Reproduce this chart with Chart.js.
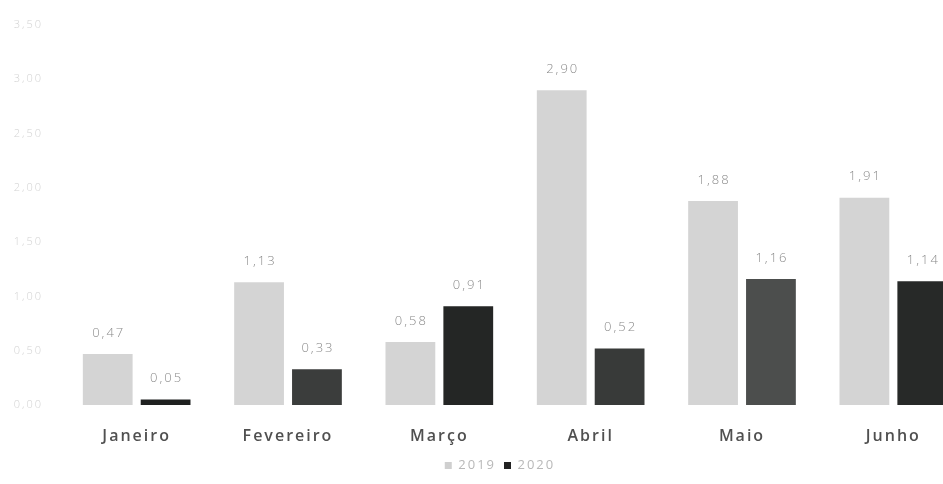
<!DOCTYPE html>
<html>
<head>
<meta charset="utf-8">
<script src="https://cdn.jsdelivr.net/npm/chart.js@4/dist/chart.umd.min.js"></script>
<style>
  html, body { margin: 0; padding: 0; background: #fff; overflow: hidden; }
  #wrap { width: 1000px; height: 484px; }
</style>
</head>
<body>
<div id="wrap"><canvas id="chart" width="1000" height="484"></canvas></div>
<script>
const months = ["Janeiro", "Fevereiro", "Março", "Abril", "Maio", "Junho"]
const values2019 = [0.47, 1.13, 0.58, 2.90, 1.88, 1.91]
const values2020 = [0.05, 0.33, 0.91, 0.52, 1.16, 1.14]
const yTicks = [0, 0.5, 1, 1.5, 2, 2.5, 3, 3.5]

// 2020 bars are not all the same shade
const colors2020 = ["#1f2120", "#3b3d3c", "#242625", "#383a39", "#4c4e4d", "#272928"]

const fmt = v => v.toFixed(2).replace(".", ",")

// wide tracking on every text
const spacing = {
    id: "spacing",
    beforeUpdate(chart) { chart.ctx.letterSpacing = "2px" },
    beforeDraw(chart) { chart.ctx.letterSpacing = "2px" }
}

// values above each bar
const valueLabels = {
    id: "valueLabels",
    afterDatasetsDraw(chart) {
        const ctx = chart.ctx
        ctx.save()
        ctx.font = "300 13px 'Open Sans'"
        ctx.fillStyle = "#8a8a8a"
        ctx.textAlign = "center"
        ctx.textBaseline = "middle"
        chart.data.datasets.forEach((ds, i) => {
            chart.getDatasetMeta(i).data.forEach((bar, j) => {
                ctx.fillText(fmt(ds.data[j]), bar.x + 1, bar.y - 21)
            })
        })
        ctx.restore()
    }
}

new Chart("chart", {
    type: "bar",
    data: {
        labels: months,
        datasets: [{
            label: "2019",
            data: values2019,
            backgroundColor: "#d4d4d4"
        }, {
            label: "2020",
            data: values2020,
            backgroundColor: colors2020
        }]
    },
    options: {
        responsive: false,
        animation: false,
        categoryPercentage: 0.765,
        barPercentage: 0.86,
        layout: { padding: { top: 25, right: 0, left: 0, bottom: 2 } },
        plugins: {
            legend: {
                position: "bottom",
                labels: {
                    boxWidth: 7,
                    boxHeight: 7,
                    padding: 8,
                    color: "#b8b8b8",
                    font: { family: "'Open Sans'", size: 13 },
                    generateLabels: chart => chart.data.datasets.map((ds, i) => ({
                        text: ds.label,
                        fillStyle: i == 0 ? "#cfcfcf" : "#222",
                        strokeStyle: "transparent",
                        lineWidth: 0,
                        fontColor: "#b8b8b8",
                        datasetIndex: i
                    }))
                }
            },
            tooltip: { enabled: false }
        },
        scales: {
            x: {
                afterFit: axis => { axis.height = 46 },
                grid: { display: false },
                border: { display: false },
                ticks: {
                    color: "#505050",
                    padding: 14,
                    font: { family: "'Open Sans'", size: 16, weight: "600" }
                }
            },
            y: {
                min: 0,
                max: 3.5,
                afterFit: axis => { axis.width = 61 },
                afterBuildTicks: axis => { axis.ticks = yTicks.map(v => ({ value: v })) },
                grid: { display: false },
                border: { display: false },
                ticks: {
                    color: "#d2d2d2",
                    padding: 10,
                    font: { family: "'Open Sans'", size: 11, weight: "300" },
                    callback: v => fmt(v)
                }
            },
            // empty strip on the right of the plot
            yRight: {
                position: "right",
                afterFit: axis => { axis.width = 31 },
                grid: { display: false },
                border: { display: false },
                ticks: { display: false }
            }
        }
    },
    plugins: [spacing, valueLabels]
})
</script>
</body>
</html>
